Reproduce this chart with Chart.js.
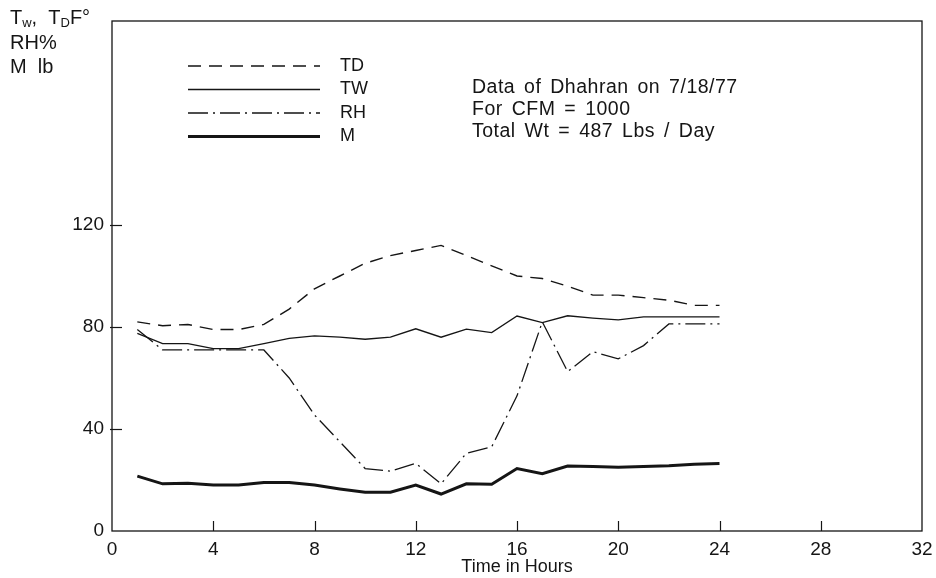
<!DOCTYPE html>
<html>
<head>
<meta charset="utf-8">
<script src="https://cdn.jsdelivr.net/npm/chart.js@4.4.0/dist/chart.umd.min.js"></script>
<style>
  html, body { margin: 0; padding: 0; background: #fff; }
  #wrap { width: 936px; height: 578px; }
</style>
</head>
<body>
<div id="wrap"><canvas id="chart"></canvas></div>
<script>
// hours of the day
const hours = [1, 2, 3, 4, 5, 6, 7, 8, 9, 10, 11, 12, 13, 14, 15, 16, 17, 18, 19, 20, 21, 22, 23, 24];
// dry bulb temperature, F
const tdValues = [82, 80.5, 81, 79, 79, 81, 87, 95, 100, 105, 108, 110, 112, 108, 104, 100, 99, 96, 92.5, 92.5, 91.5, 90.5, 88.5, 88.5];
// wet bulb temperature, F
const twValues = [77.5, 73.5, 73.5, 71.5, 71.5, 73.5, 75.5, 76.5, 76, 75.2, 76, 79.3, 76, 79.2, 77.8, 84.3, 81.7, 84.4, 83.5, 82.8, 84, 84, 84, 84];
// relative humidity, %
const rhValues = [79, 71, 71, 71, 71, 71, 60, 45.5, 35, 24.5, 23.5, 26.5, 18.5, 30.5, 33, 53, 82, 62.5, 70.3, 67.5, 72.7, 81.2, 81.2, 81.2];
// water collected, lb
const mValues = [21.5, 18.5, 18.7, 18, 18, 19, 19, 18, 16.5, 15.2, 15.2, 18, 14.5, 18.5, 18.3, 24.5, 22.5, 25.5, 25.3, 25, 25.3, 25.6, 26.2, 26.5];

const xTicks = [0, 4, 8, 12, 16, 20, 24, 28, 32];
const yTicks = [0, 40, 80, 120];
const notes = ['Data of Dhahran on 7/18/77', 'For CFM = 1000', 'Total Wt = 487 Lbs / Day'];

const ink = '#151515';
const font = '"Liberation Sans", Arial, sans-serif';

function points(vals) {
  return hours.map((h, i) => ({ x: h, y: vals[i] }));
}

// frame, inward ticks, legend and the text blocks
const decor = {
  id: 'decor',
  afterDatasetsDraw(chart) {
    const ctx = chart.ctx;
    const a = chart.chartArea;
    const xs = chart.scales.x, ys = chart.scales.y;
    ctx.save();
    ctx.strokeStyle = ink;
    ctx.lineWidth = 1.3;
    ctx.setLineDash([]);
    ctx.strokeRect(a.left, a.top, a.right - a.left, a.bottom - a.top);

    ctx.lineWidth = 1.2;
    xTicks.slice(1, -1).forEach(v => {
      const px = Math.round(xs.getPixelForValue(v)) + 0.5;
      ctx.beginPath(); ctx.moveTo(px, a.bottom); ctx.lineTo(px, a.bottom - 10); ctx.stroke();
    });
    yTicks.slice(1).forEach(v => {
      const py = Math.round(ys.getPixelForValue(v)) + 0.5;
      ctx.beginPath(); ctx.moveTo(a.left - 2, py); ctx.lineTo(a.left + 10, py); ctx.stroke();
    });

    // legend
    ctx.font = '18px ' + font;
    ctx.fillStyle = ink;
    ctx.textBaseline = 'middle';
    chart.data.datasets.forEach((ds, i) => {
      const y = 66 + i * 23.5;
      ctx.lineWidth = ds.borderWidth;
      ctx.setLineDash(ds.borderDash || []);
      ctx.beginPath(); ctx.moveTo(188, y); ctx.lineTo(320, y); ctx.stroke();
      ctx.setLineDash([]);
      ctx.fillText(ds.label, 340, y);
    });

    // run notes
    ctx.font = '19.5px ' + font;
    ctx.letterSpacing = '0.5px';
    ctx.wordSpacing = '3px';
    notes.forEach((t, i) => ctx.fillText(t, 472, 88 + i * 22));
    ctx.letterSpacing = '0px';
    ctx.wordSpacing = '0px';

    // y-axis title with subscripts
    const big = '20px ' + font, small = '13px ' + font;
    let x = 10;
    const y0 = 18;
    const put = (t, f, dy) => { ctx.font = f; ctx.fillText(t, x, y0 + dy); x += ctx.measureText(t).width; };
    put('T', big, 0); put('w', small, 5); put(',  T', big, 0); put('D', small, 5); put('F°', big, 0);
    ctx.font = big;
    ctx.fillText('RH%', 10, 43);
    ctx.fillText('M  lb', 10, 67);
    ctx.restore();
  }
};

new Chart(document.getElementById('chart'), {
  type: 'line',
  data: {
    datasets: [
      { label: 'TD', data: points(tdValues), borderColor: ink, borderWidth: 1.4, borderDash: [13, 8] },
      { label: 'TW', data: points(twValues), borderColor: ink, borderWidth: 1.3, borderDash: [] },
      { label: 'RH', data: points(rhValues), borderColor: ink, borderWidth: 1.3, borderDash: [20, 5, 2, 5] },
      { label: 'M', data: points(mValues), borderColor: ink, borderWidth: 3, borderDash: [] }
    ]
  },
  options: {
    responsive: true,
    maintainAspectRatio: false,
    animation: false,
    elements: { point: { radius: 0 }, line: { tension: 0 } },
    layout: { padding: { top: 21, right: 14, left: 0, bottom: 0 } },
    plugins: { legend: { display: false }, tooltip: { enabled: false } },
    scales: {
      x: {
        type: 'linear', min: 0, max: 32,
        afterBuildTicks: s => { s.ticks = xTicks.map(v => ({ value: v })); },
        afterFit: s => { s.height = 47; s.paddingRight = 0; s.paddingLeft = 0; },
        grid: { display: false, drawTicks: false, tickLength: 0 },
        border: { display: false },
        ticks: { color: ink, font: { family: font, size: 19 }, padding: 7, maxRotation: 0 },
        title: { display: true, text: 'Time in Hours', color: ink, font: { family: font, size: 18 }, padding: { top: 0, bottom: 0 } }
      },
      y: {
        min: 0, max: 200,
        afterBuildTicks: s => { s.ticks = yTicks.map(v => ({ value: v })); },
        afterFit: s => { s.width = 112; },
        grid: { display: false, drawTicks: false, tickLength: 0 },
        border: { display: false },
        ticks: { color: ink, font: { family: font, size: 19 }, padding: 8 }
      }
    }
  },
  plugins: [decor]
});
</script>
</body>
</html>
